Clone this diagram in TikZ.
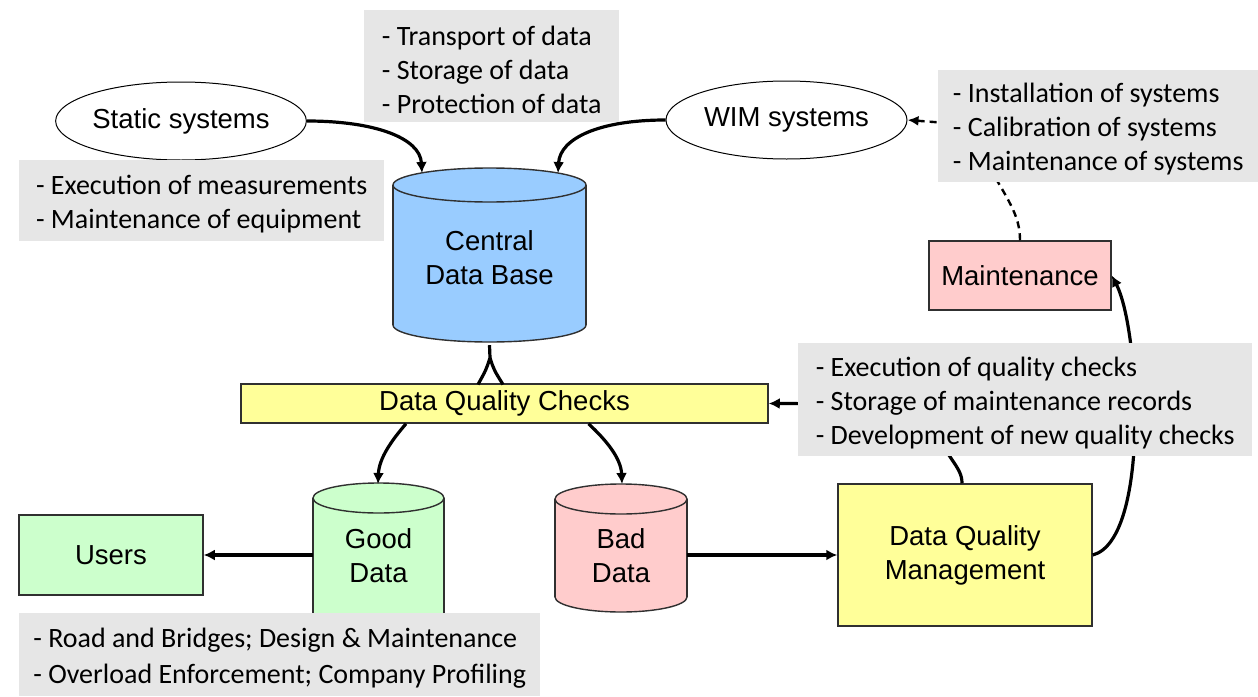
\documentclass[tikz,border=0pt]{standalone}
\usepackage{fontspec}
\setmainfont{Liberation Sans}
\newfontfamily\notefont{Carlito}
\usetikzlibrary{arrows.meta,shapes.geometric}

\definecolor{dbblue}{HTML}{99CCFF}
\definecolor{okgreen}{HTML}{CCFFCC}
\definecolor{badpink}{HTML}{FFCCCC}
\definecolor{checkyellow}{HTML}{FFFF99}
\definecolor{notegrey}{HTML}{E6E6E6}
\definecolor{edgegrey}{HTML}{303030}

% drum: centre x, top-end centre y, bottom-end centre y, half width, end radius, fill
\newcommand\drum[6]{%
  \filldraw[fill=#6, draw=edgegrey, line width=1.4pt] (#1,#3) ellipse [x radius=#4, y radius=#5];
  \fill[#6] (#1-#4,#2) rectangle (#1+#4,#3);
  \draw[edgegrey, line width=1.4pt] (#1-#4,#2) -- (#1-#4,#3) (#1+#4,#2) -- (#1+#4,#3);
  \filldraw[fill=#6, draw=edgegrey, line width=1.4pt] (#1,#2) ellipse [x radius=#4, y radius=#5];
}
% extra head room on the first line of a note, pushing its text block down a little
\newcommand\notetop{\rule{0pt}{26pt}}

\tikzset{
  mainfont/.style={font=\fontsize{27.5}{34}\selectfont},
  box/.style={mainfont, draw=edgegrey, line width=1.5pt, align=center, inner sep=0pt},
  oval/.style={mainfont, ellipse, draw=black, line width=1pt, fill=white,
    minimum width=241pt, minimum height=78pt, inner sep=0pt},
  drumtext/.style={mainfont, align=center, inner sep=0pt},
  note/.style={fill=notegrey, anchor=north west, align=left, inner sep=0pt,
    font=\notefont\fontsize{28}{34}\selectfont},
  pipe/.style={line width=3.2pt},
  flow/.style={pipe, -{Latex[length=11pt,width=11pt]}},
  hint/.style={line width=2.4pt, -{Latex[length=11pt,width=10pt]}, dash pattern=on 7pt off 5pt},
}

\begin{document}
\begin{tikzpicture}[x=1pt,y=-1pt]
\useasboundingbox[fill=white] (0,0) rectangle (1258,696);

% data stores
\drum{489.5}{185}{325}{96.5}{17}{dbblue}
\node[drumtext, minimum width=193pt, minimum height=174pt] (cdb) at (489.5,258) {Central\\Data Base};
\drum{378.5}{498}{616}{65.5}{15}{okgreen}
\node[drumtext, minimum width=131pt, minimum height=132pt] (good) at (378.5,556) {Good\\Data};
\drum{621}{499}{597}{66}{15}{badpink}
\node[drumtext, minimum width=132pt, minimum height=128pt] (bad) at (621,556) {Bad\\Data};

% processes and actors
\node[box, fill=checkyellow, minimum width=527pt, minimum height=39pt] (dqc) at (504.5,403.5) {Data Quality Checks};
\node[box, fill=okgreen, minimum width=184pt, minimum height=80pt] (users) at (111,555) {Users};
\node[box, fill=badpink, minimum width=182pt, minimum height=69pt] (maint) at (1020,275.5) {Maintenance};
\node[box, fill=checkyellow, minimum width=254pt, minimum height=142pt] (dqm) at (965,555) {Data Quality\\Management};
\node[oval] (static) at (181,121) {Static systems};
\node[oval] (wim) at (786.5,120) {WIM systems};

% connector end points
\coordinate (cdb-l) at (422,173);
\coordinate (cdb-r) at (558,173);
\coordinate (fork) at (490,358);
\coordinate (dqc-l) at (478,384.5);
\coordinate (dqc-r) at (503,384.5);
\coordinate (good-in) at (378,484);
\coordinate (bad-in) at (622,484);

% connectors
\draw[flow] (static.east) .. controls (375,121) and (420,138) .. (cdb-l);
\draw[flow] (wim.west) .. controls (600,120) and (560,138) .. (cdb-r);
\draw[pipe] (cdb.south) -- (fork) .. controls (486,370) .. (dqc-l);
\draw[pipe] (fork) .. controls (494,370) .. (dqc-r);
\draw[flow] ([xshift=-98.5pt]dqc.south) .. controls (392,440) and (379,458) .. (good-in);
\draw[flow] ([xshift=84pt]dqc.south) .. controls (606,440) and (621,458) .. (bad-in);
\draw[flow] (users.east -| good.west) -- (users.east);
\draw[flow] (bad.east |- dqm.west) -- (dqm.west);
\draw[flow] ([xshift=-3pt]dqm.north) .. controls (962,466) and (948,462) .. (920,404) -- (dqc.east);
\draw[flow] (dqm.east) .. controls (1150,540) and (1140,330) .. (maint.east);
\draw[hint] (maint.north) .. controls (1020,215) and (1008,200) .. (985,160) -- (960,124) -- (wim.east);

% annotations
\node[note, minimum width=255pt, minimum height=112pt] (n-db) at (364,10)
  {\notetop- Transport of data\\- Storage of data\\- Protection of data};
\node[note, minimum width=365pt, minimum height=81pt] (n-static) at (19,160)
  {\notetop- Execution of measurements\\- Maintenance of equipment};
\node[note, minimum width=320pt, minimum height=112pt] (n-wim) at (938,70)
  {\notetop- Installation of systems\\- Calibration of systems\\- Maintenance of systems};
\node[note, minimum width=454pt, minimum height=113pt] (n-dqm) at (798,343)
  {\notetop- Execution of quality checks\\- Storage of maintenance records\\- Development of new quality checks};
\node[note, minimum width=521pt, minimum height=83pt, font=\notefont\fontsize{28}{36}\selectfont] (n-users) at (19,613)
  {\notetop- Road and Bridges; Design \& Maintenance\\- Overload Enforcement; Company Profiling};
\end{tikzpicture}
\end{document}
